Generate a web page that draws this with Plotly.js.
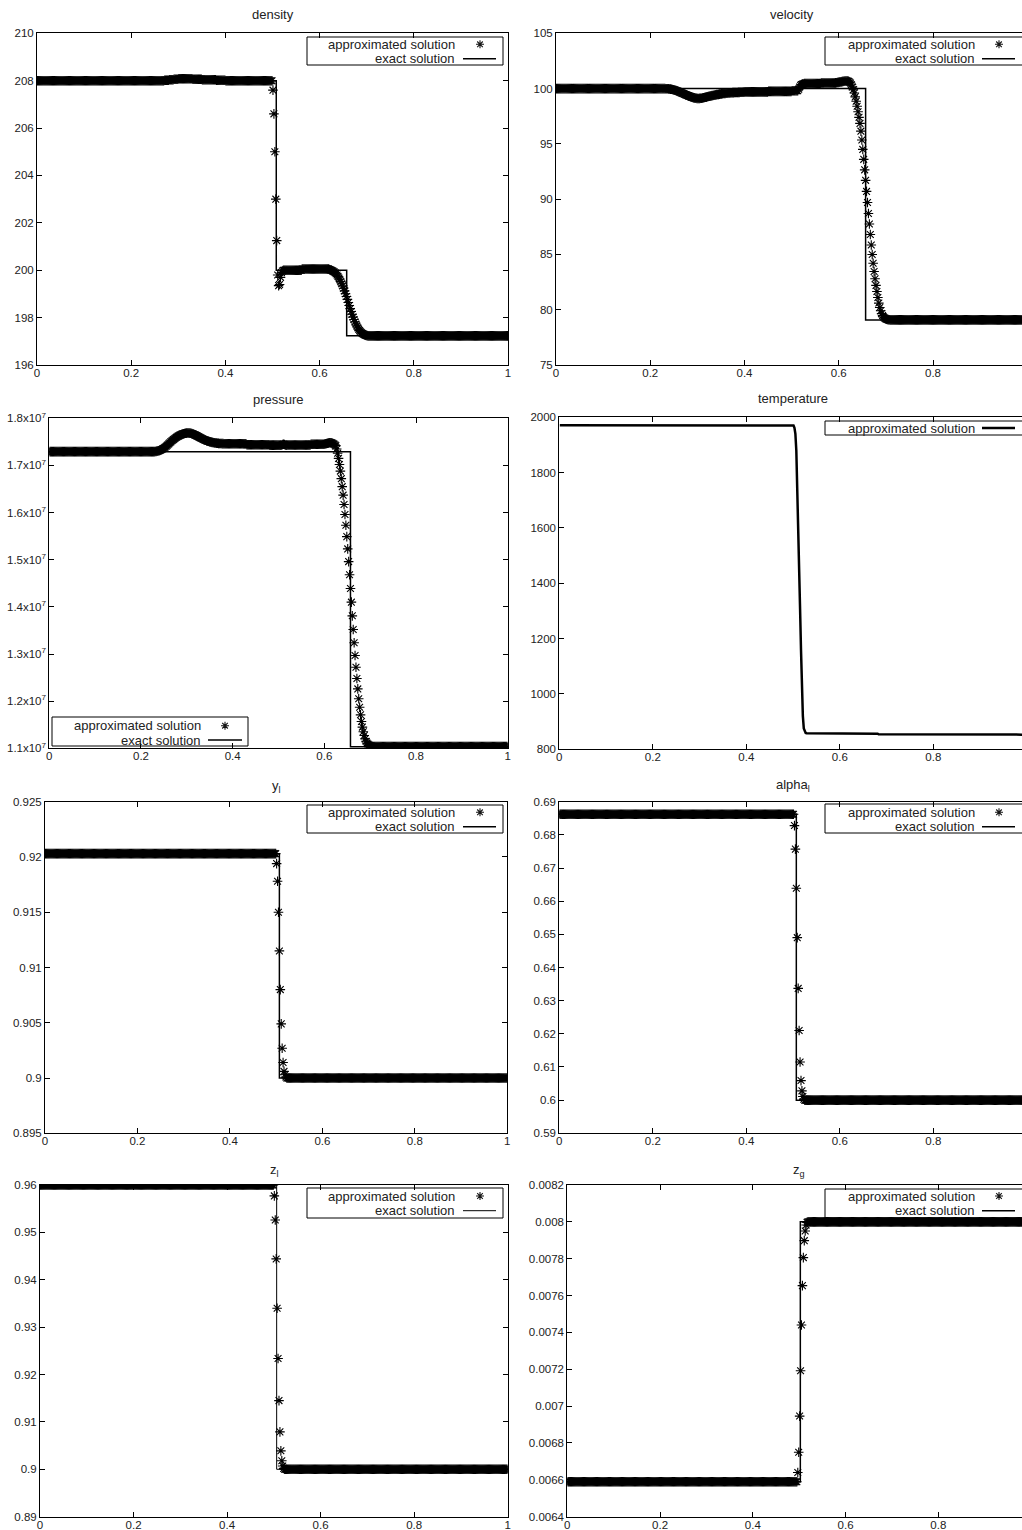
<!DOCTYPE html>
<html><head><meta charset="utf-8">
<script src="https://cdn.plot.ly/plotly-3.0.1.min.js"></script>
<style>html,body{margin:0;padding:0;background:#fff}#chart{width:1022px;height:1530px}</style>
</head><body><div id="chart"></div>
<script>
// ---------------- DATA ----------------
// uniform mesh of cells, value at cell centres
const N_CELLS = 500;
// runs: [firstCell, lastCell, value] ; pts: [firstCell, [values...]]
const densityRuns = [[0,134,208.0],[135,139,208.02],[140,144,208.04],[145,149,208.06],[150,164,208.08],[165,174,208.06],[175,189,208.04],[190,199,208.02],[200,249,208.0],[261,280,200.0],[281,309,200.05],[351,499,197.23]];
const densityPts = [
  [250,[207.6,206.6,205.0,203.0,201.25,199.8,199.35,199.4,199.7,199.9,199.97]],
  [310,[200.03,200.01,200.0,199.98,199.96,199.93,199.89,199.85,199.8,199.74,199.67,199.6,199.52,199.43,199.34,199.24,199.13,199.01,198.89,198.77,198.64,198.51,198.38,198.26,198.14,198.02,197.92,197.82,197.73,197.65,197.57,197.51,197.45,197.4,197.36,197.33,197.3,197.28,197.26,197.25,197.24]]
];
const densityExactX = [0,0.508,0.508,0.6575,0.6575,1];
const densityExactY = [208,208,200,200,197.23,197.23];

const velocityRuns = [[0,114,100.0],[200,224,99.7],[225,249,99.75],[250,256,99.8],[263,280,100.45],[281,295,100.5],[354,499,79.08]];
const velocityPts = [
  [115,[100.0,99.99,99.98,99.98,99.97,99.96,99.95,99.94,99.92,99.9,
        99.87,99.85,99.82,99.79,99.75,99.71,99.67,99.64,99.6,99.56,
        99.53,99.49,99.45,99.42,99.38,99.34,99.3,99.28,99.25,99.21,
        99.18,99.16,99.14,99.12,99.11,99.1,99.1,99.11,99.12,99.13,
        99.15,99.17,99.19,99.21,99.23,99.26,99.28,99.3,99.32,99.34,
        99.36,99.38,99.4,99.42,99.43,99.45,99.46,99.48,99.5,99.51,
        99.52,99.54,99.55,99.56,99.57,99.58,99.59,99.6,99.6,99.61,
        99.62,99.62,99.63,99.63,99.64,99.64,99.65,99.65,99.66,99.66,99.67,99.67,99.67,99.68,99.68]],
  [257,[99.95,100.15,100.3,100.36,100.4,100.42]],
  [296,[100.52,100.53,100.55,100.56,100.58,100.6,100.61,100.63,100.65,100.66,100.68,100.69,100.69,100.69]],
  [310,[100.66,100.6,100.5,100.35,100.15,99.9,99.6,99.25,98.85,98.4,97.9,97.4,96.85,96.15,95.35,94.5,93.6,92.65,91.7,90.7,89.7,88.7,87.75,86.8,85.85,85.0,84.2,83.45,82.8,82.2,81.65,81.1,80.6,80.2,79.9,79.65,79.47,79.34,79.25,79.19,79.15,79.12,79.1,79.09]]
];
const velocityExactX = [0,0.657,0.657,1];
const velocityExactY = [100,100,79.08,79.08];

const pressureRuns = [[0,114,1.7293e7],[195,214,1.746e7],[215,239,1.744e7],[240,252,1.743e7],[259,284,1.7435e7],[285,299,1.745e7],[354,499,1.1035e7]];
const pressurePts = [
  [115,[1.7295e7,1.7298e7,1.7302e7,1.7307e7,1.7313e7,1.732e7,1.7328e7,1.7337e7,1.7348e7,1.736e7,
        1.7374e7,1.739e7,1.7407e7,1.7425e7,1.7444e7,1.7463e7,1.7482e7,1.75e7,1.7518e7,1.7535e7,
        1.7552e7,1.7568e7,1.7583e7,1.7597e7,1.761e7,1.7622e7,1.7633e7,1.7643e7,1.7652e7,1.766e7,
        1.7667e7,1.7673e7,1.7678e7,1.7682e7,1.7685e7,1.7687e7,1.7688e7,1.7688e7,1.7686e7,1.7683e7,
        1.7675e7,1.7668e7,1.766e7,1.7652e7,1.7643e7,1.7633e7,1.7622e7,1.7611e7,1.76e7,1.759e7,
        1.758e7,1.757e7,1.756e7,1.755e7,1.7541e7,1.7533e7,1.7525e7,1.7518e7,1.7512e7,1.7506e7,
        1.75e7,1.7495e7,1.749e7,1.7486e7,1.7482e7,1.7479e7,1.7476e7,1.7473e7,1.7471e7,1.7469e7,
        1.7467e7,1.7465e7,1.7464e7,1.7463e7,1.7462e7,1.7461e7,1.7461e7,1.746e7,1.746e7,1.746e7]],
  [253,[1.7435e7,1.7445e7,1.745e7,1.7445e7,1.7435e7,1.743e7]],
  [300,[1.7455e7,1.746e7,1.7465e7,1.747e7,1.7475e7,1.748e7,1.748e7,1.748e7,1.7475e7,1.7465e7]],
  [310,[1.7455e7,1.744e7,1.742e7,1.735e7,1.726e7,1.715e7,1.702e7,1.688e7,1.672e7,1.655e7,1.637e7,1.617e7,1.596e7,1.573e7,1.549e7,1.523e7,1.496e7,1.468e7,1.439e7,1.41e7,1.381e7,1.352e7,1.324e7,1.297e7,1.272e7,1.248e7,1.226e7,1.205e7,1.187e7,1.171e7,1.157e7,1.145e7,1.135e7,1.127e7,1.12e7,1.115e7,1.111e7,1.109e7,1.107e7,1.106e7,1.105e7,1.1042e7,1.1038e7,1.1035e7]]
];
const pressureExactX = [0,0.657,0.657,1];
const pressureExactY = [1.7293e7,1.7293e7,1.1035e7,1.1035e7];

const temperatureRuns = [[0,249,1971],[264,315,858],[316,340,856.5],[341,420,854.5],[421,499,853]];
const temperaturePts = [[250,[1970,1962,1940,1880,1760,1610,1460,1310,1160,1020,920,875,862,859]]];

const ylRuns = [[0,249,0.9203],[261,499,0.9]];
const ylPts = [[250,[0.9194,0.9178,0.915,0.9115,0.908,0.9049,0.9027,0.9014,0.9006,0.9003,0.9001]]];
const ylExactX = [0,0.507,0.507,1];
const ylExactY = [0.9203,0.9203,0.9,0.9];

const alphaRuns = [[0,250,0.6862],[262,499,0.6]];
const alphaPts = [[251,[0.6828,0.6757,0.6639,0.649,0.6337,0.621,0.6115,0.6059,0.6028,0.6011,0.6003]]];
const alphaExactX = [0,0.507,0.507,1];
const alphaExactY = [0.6862,0.6862,0.6,0.6];

const zlRuns = [[0,249,0.96],[261,499,0.9]];
const zlPts = [[250,[0.9577,0.9526,0.9444,0.934,0.9234,0.9145,0.9079,0.9039,0.9018,0.9007,0.9002]]];
const zlExactX = [0,0.506,0.506,1];
const zlExactY = [0.96,0.96,0.9,0.9];

const zgRuns = [[0,247,0.00659],[259,499,0.008]];
const zgPts = [[248,[0.00664,0.00675,0.006946,0.007192,0.00744,0.007654,0.007806,0.007898,0.00795,0.007983,0.007997]]];
const zgExactX = [0,0.5025,0.5025,1];
const zgExactY = [0.00659,0.00659,0.008,0.008];

// tick labels
const xTickVals = [0,0.2,0.4,0.6,0.8,1];
const xTickText = ['0','0.2','0.4','0.6','0.8','1'];
const densityTicks = [196,198,200,202,204,206,208,210];
const velocityTicks = [75,80,85,90,95,100,105];
const pressureTicks = [1.1e7,1.2e7,1.3e7,1.4e7,1.5e7,1.6e7,1.7e7,1.8e7];
const pressureTickText = ['1.1x10<sup>7</sup>','1.2x10<sup>7</sup>','1.3x10<sup>7</sup>','1.4x10<sup>7</sup>','1.5x10<sup>7</sup>','1.6x10<sup>7</sup>','1.7x10<sup>7</sup>','1.8x10<sup>7</sup>'];
const temperatureTicks = [800,1000,1200,1400,1600,1800,2000];
const ylTicks = [0.895,0.9,0.905,0.91,0.915,0.92,0.925];
const ylTickText = ['0.895','0.9','0.905','0.91','0.915','0.92','0.925'];
const alphaTicks = [0.59,0.6,0.61,0.62,0.63,0.64,0.65,0.66,0.67,0.68,0.69];
const alphaTickText = ['0.59','0.6','0.61','0.62','0.63','0.64','0.65','0.66','0.67','0.68','0.69'];
const zlTicks = [0.89,0.9,0.91,0.92,0.93,0.94,0.95,0.96];
const zlTickText = ['0.89','0.9','0.91','0.92','0.93','0.94','0.95','0.96'];
const zgTicks = [0.0064,0.0066,0.0068,0.007,0.0072,0.0074,0.0076,0.0078,0.008,0.0082];
const zgTickText = ['0.0064','0.0066','0.0068','0.007','0.0072','0.0074','0.0076','0.0078','0.008','0.0082'];

const LEG_APPROX = 'approximated solution';
const LEG_EXACT = 'exact solution';

// ---------------- BUILD ----------------
function cells(runs, pts){
  const m = new Map();
  runs.forEach(([a,b,v])=>{ for(let i=a;i<=b;i++) m.set(i,v); });
  pts.forEach(([s,vals])=>vals.forEach((v,k)=>m.set(s+k,v)));
  const idx=[...m.keys()].sort((a,b)=>a-b);
  return {x: idx.map(i=>(i+0.5)/N_CELLS), y: idx.map(i=>m.get(i))};
}

const W=1022, H=1530;
const fx = p => p/W, fy = p => 1 - p/H;
const FONT = 'Liberation Sans, Arial, Helvetica, sans-serif';
const TXT = '#222';

const panels = [
  {title:'density', tx:272.5, ty:15, g:[37,471,33.3,365], yr:[196,210], yt:densityTicks, ytt:densityTicks.map(String),
   ap:cells(densityRuns,densityPts), ex:[densityExactX,densityExactY], exW:1.5,
   leg:{box:[307,37,503,65], rows:[44.3,58.7], tr:457, sx:480, l:[463,496]}},
  {title:'velocity', tx:791.5, ty:15, g:[556,471.25,33.3,365], yr:[75,105], yt:velocityTicks, ytt:velocityTicks.map(String),
   ap:cells(velocityRuns,velocityPts), ex:[velocityExactX,velocityExactY], exW:1.5,
   leg:{box:[825,37,1035,65], rows:[44.3,58.7], tr:977, sx:999, l:[982,1015]}},
  {title:'pressure', tx:278.5, ty:400, g:[49.3,458.4,418.3,748.3], yr:[1.1e7,1.8e7], yt:pressureTicks, ytt:pressureTickText,
   ap:cells(pressureRuns,pressurePts), ex:[pressureExactX,pressureExactY], exW:1.5,
   leg:{box:[52,717,248,746], rows:[725.7,740], tr:203, sx:225, l:[208,242]}},
  {title:'temperature', tx:793, ty:399, g:[559.3,467.5,417.3,749.3], yr:[800,2000], yt:temperatureTicks, ytt:temperatureTicks.map(String),
   ap:cells(temperatureRuns,temperaturePts), line:true,
   leg:{box:[825,421,1035,435], rows:[428], tr:977, l:[982,1015]}},
  {title:'y<sub>l</sub>', tx:276, ty:787, g:[45,462.3,801.7,1133.3], yr:[0.895,0.925], yt:ylTicks, ytt:ylTickText,
   ap:cells(ylRuns,ylPts), ex:[ylExactX,ylExactY], exW:1.5,
   leg:{box:[307,805,503,833], rows:[812.3,826.7], tr:457, sx:480, l:[463,496]}},
  {title:'alpha<sub>l</sub>', tx:793, ty:786, g:[559.3,467.5,801.7,1133.3], yr:[0.59,0.69], yt:alphaTicks, ytt:alphaTickText,
   ap:cells(alphaRuns,alphaPts), ex:[alphaExactX,alphaExactY], exW:1.5,
   leg:{box:[825,804,1035,833], rows:[812.3,826.7], tr:977, sx:999, l:[982,1015]}},
  {title:'z<sub>l</sub>', tx:274, ty:1170, g:[40,467.7,1185,1516.7], yr:[0.89,0.96], yt:zlTicks, ytt:zlTickText,
   ap:cells(zlRuns,zlPts), ex:[zlExactX,zlExactY], exW:1,
   leg:{box:[307,1188,503,1218], rows:[1196,1210.7], tr:457, sx:480, l:[463,496]}},
  {title:'z<sub>g</sub>', tx:799, ty:1170, g:[567.3,463.75,1185,1516.7], yr:[0.0064,0.0082], yt:zgTicks, ytt:zgTickText,
   ap:cells(zgRuns,zgPts), ex:[zgExactX,zgExactY], exW:1.5,
   leg:{box:[825,1189,1035,1218], rows:[1196,1210.7], tr:977, sx:999, l:[982,1015]}}
];

const traces=[], annotations=[], shapes=[];
const layout = {width:W, height:H, margin:{l:0,r:0,t:0,b:0}, showlegend:false,
  paper_bgcolor:'#fff', plot_bgcolor:'#fff', font:{family:FONT, color:TXT, size:12}};

panels.forEach((p,i)=>{
  const k=i+1, right = (i%2===1);
  const [left, scale, top, bottom] = p.g;
  const rEdge = Math.min(left+scale, W);
  const axCommon = {showline:true, linecolor:'#000', linewidth:1, ticks:'inside', ticklen:5, tickcolor:'#000', tickwidth:1,
    showgrid:false, zeroline:false, tickfont:{family:FONT, size:11.5, color:TXT}, tickmode:'array', fixedrange:true};
  layout['xaxis'+k] = Object.assign({}, axCommon, {domain:[fx(left), fx(rEdge)], range:[0,(rEdge-left)/scale],
    anchor:'y'+k, tickvals:xTickVals, ticktext:xTickText, mirror:'ticks', ticklabelstandoff:-3});
  layout['yaxis'+k] = Object.assign({}, axCommon, {domain:[fy(bottom), fy(top)], range:p.yr,
    anchor:'x'+k, tickvals:p.yt, ticktext:p.ytt, mirror: right ? false : 'ticks'});
  const xa = 'x'+k, ya='y'+k;
  if(p.line){
    traces.push({type:'scatter', mode:'lines', x:p.ap.x, y:p.ap.y, xaxis:xa, yaxis:ya, line:{color:'#000', width:2.5}, name:LEG_APPROX});
  } else {
    traces.push({type:'scatter', mode:'markers', x:p.ap.x, y:p.ap.y, xaxis:xa, yaxis:ya, name:LEG_APPROX,
      marker:{symbol:'asterisk-open', size:8, color:'#000', line:{color:'#151515', width:1.1}}});
    traces.push({type:'scatter', mode:'lines', x:p.ex[0], y:p.ex[1], xaxis:xa, yaxis:ya, name:LEG_EXACT,
      line:{color:'#000', width:p.exW}});
  }
  // title
  annotations.push({xref:'paper', yref:'paper', x:fx(p.tx), y:fy(p.ty), xanchor:'center', yanchor:'middle',
    text:p.title, showarrow:false, font:{family:FONT, size:13, color:TXT}});
  // legend
  const L=p.leg;
  shapes.push({type:'rect', xref:'paper', yref:'paper', x0:fx(L.box[0]), x1:fx(L.box[2]), y0:fy(L.box[1]), y1:fy(L.box[3]),
    line:{color:'#000', width:1}});
  const labels = p.line ? [LEG_APPROX] : [LEG_APPROX, LEG_EXACT];
  labels.forEach((t,j)=>{
    annotations.push({xref:'paper', yref:'paper', x:fx(L.tr), y:fy(L.rows[j]), xanchor:'right', yanchor:'middle',
      text:t, showarrow:false, font:{family:FONT, size:13, color:TXT}});
  });
  if(p.line){
    shapes.push({type:'line', xref:'paper', yref:'paper', x0:fx(L.l[0]), x1:fx(L.l[1]), y0:fy(L.rows[0]), y1:fy(L.rows[0]), line:{color:'#000', width:2.5}});
  } else {
    const cx=L.sx, cy=L.rows[0], r=4, d=2.8;
    const P=(a,b)=>fx(a)+','+fy(b);
    shapes.push({type:'path', xref:'paper', yref:'paper', line:{color:'#151515', width:1.1},
      path:'M'+P(cx-r,cy)+'L'+P(cx+r,cy)+'M'+P(cx,cy-r)+'L'+P(cx,cy+r)+'M'+P(cx-d,cy-d)+'L'+P(cx+d,cy+d)+'M'+P(cx-d,cy+d)+'L'+P(cx+d,cy-d)});
    shapes.push({type:'line', xref:'paper', yref:'paper', x0:fx(L.l[0]), x1:fx(L.l[1]), y0:fy(L.rows[1]), y1:fy(L.rows[1]), line:{color:'#000', width:p.exW}});
  }
});
layout.annotations=annotations;
layout.shapes=shapes;
Plotly.newPlot('chart', traces, layout, {displayModeBar:false, staticPlot:true});
</script>
</body></html>
